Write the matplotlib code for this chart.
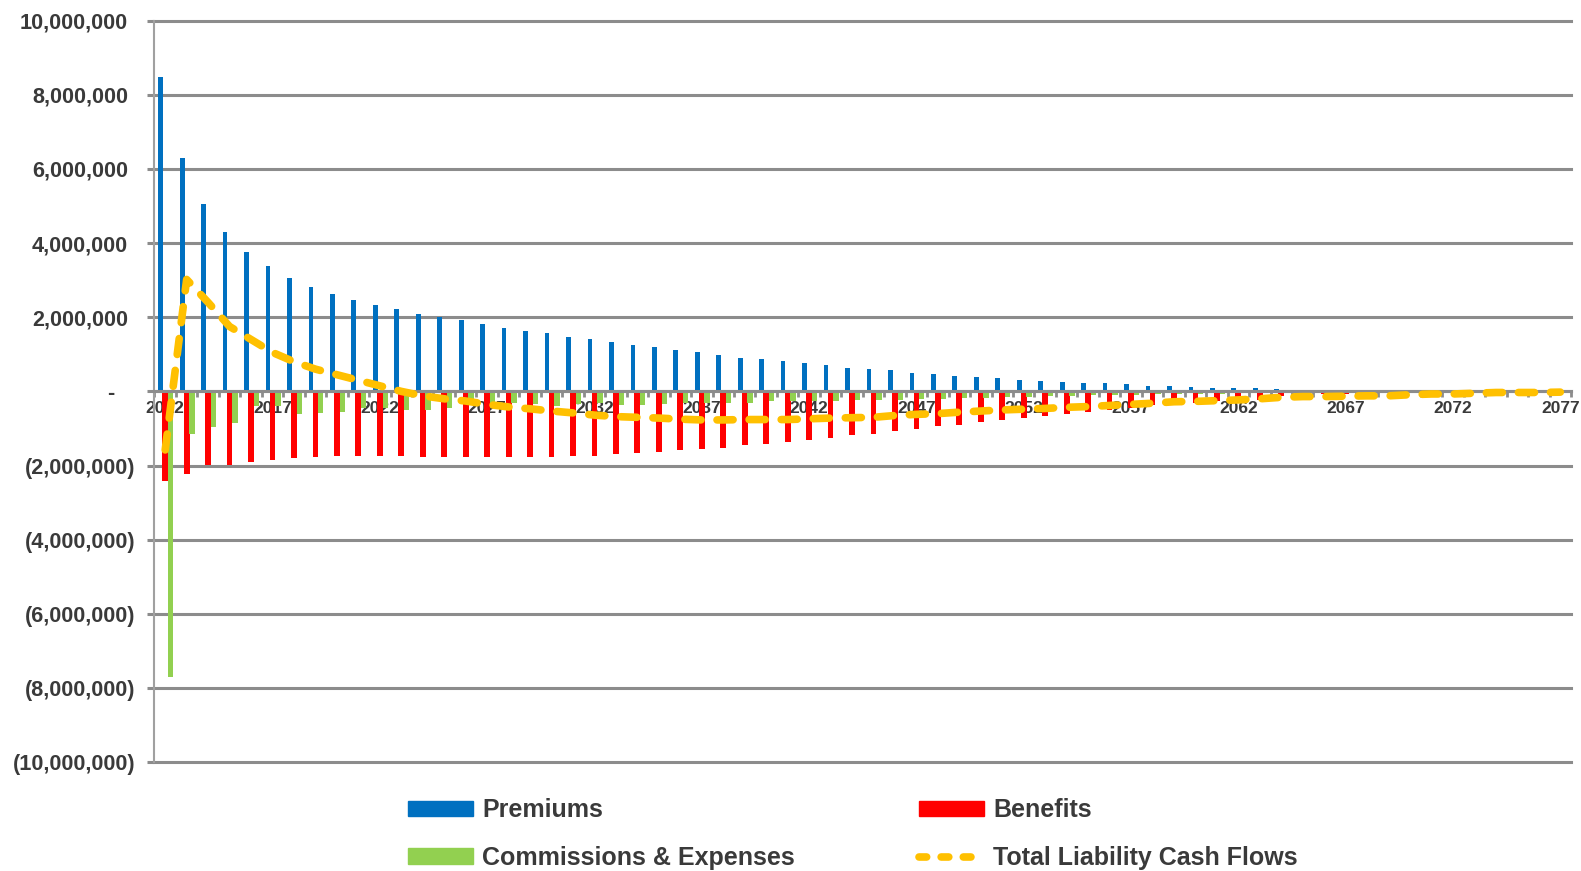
import matplotlib
matplotlib.use("Agg")
import matplotlib.pyplot as plt
import matplotlib.transforms as mtransforms
from matplotlib.patches import Patch
from matplotlib.lines import Line2D
import numpy as np

plt.rcParams['font.family'] = ['Liberation Sans', 'DejaVu Sans']
plt.rcParams['font.weight'] = 'bold'

years = list(range(2012, 2078))

# values in millions
premiums = [8.49, 6.31, 5.06, 4.31, 3.75, 3.37, 3.06, 2.82, 2.64, 2.47,
            2.33, 2.23, 2.09, 2.02, 1.92, 1.81, 1.70, 1.64, 1.58, 1.47,
            1.40, 1.33, 1.26, 1.19, 1.12, 1.05, 0.98, 0.91, 0.87, 0.81,
            0.77, 0.70, 0.63, 0.60, 0.57, 0.50, 0.46, 0.42, 0.39, 0.36,
            0.32, 0.29, 0.25, 0.23, 0.22, 0.19, 0.15, 0.15, 0.12, 0.10,
            0.08, 0.08, 0.07, 0.05, 0.05, 0.05, 0.04, 0.04, 0.04, 0.03,
            0.03, 0.03, 0.02, 0.02, 0.02, 0.02]

benefits = [-2.41, -2.22, -1.98, -1.98, -1.90, -1.85, -1.80, -1.77, -1.73, -1.74,
            -1.74, -1.75, -1.76, -1.76, -1.76, -1.77, -1.77, -1.77, -1.77, -1.73,
            -1.73, -1.69, -1.66, -1.63, -1.59, -1.56, -1.52, -1.46, -1.42, -1.36,
            -1.32, -1.25, -1.18, -1.14, -1.08, -1.01, -0.94, -0.90, -0.83, -0.77,
            -0.72, -0.67, -0.61, -0.55, -0.50, -0.44, -0.38, -0.34, -0.30, -0.25,
            -0.20, -0.22, -0.12, -0.09, -0.07, -0.06, -0.05, -0.04, -0.04, -0.03,
            -0.03, -0.02, -0.02, -0.02, -0.01, -0.01]

commissions = [-7.71, -1.14, -0.95, -0.84, -0.40, -0.40, -0.61, -0.59, -0.55, -0.45,
               -0.45, -0.50, -0.50, -0.45, -0.30, -0.30, -0.30, -0.34, -0.39, -0.34,
               -0.30, -0.36, -0.36, -0.35, -0.30, -0.32, -0.32, -0.31, -0.27, -0.27,
               -0.26, -0.25, -0.23, -0.23, -0.22, -0.21, -0.20, -0.18, -0.17, -0.15,
               -0.14, -0.13, -0.12, -0.11, -0.10, -0.09, -0.08, -0.08, -0.07, -0.06,
               -0.05, -0.05, -0.04, -0.04, -0.03, -0.03, -0.02, -0.02, -0.02, -0.02,
               -0.01, -0.01, -0.01, -0.01, -0.01, -0.01]

total = [-1.58, 3.02, 2.40, 1.75, 1.40, 1.05, 0.80, 0.60, 0.45, 0.30,
         0.15, 0.00, -0.12, -0.20, -0.26, -0.35, -0.42, -0.47, -0.53, -0.58,
         -0.64, -0.68, -0.70, -0.72, -0.75, -0.77, -0.77, -0.76, -0.76, -0.76,
         -0.74, -0.72, -0.71, -0.70, -0.65, -0.62, -0.60, -0.56, -0.53, -0.50,
         -0.48, -0.46, -0.43, -0.41, -0.38, -0.35, -0.32, -0.28, -0.27, -0.25,
         -0.23, -0.20, -0.16, -0.14, -0.14, -0.13, -0.12, -0.12, -0.09, -0.07,
         -0.07, -0.05, -0.03, -0.03, -0.03, -0.02]

yticks = list(range(-10, 11, 2))
label_years = years[::5]

blue = '#0070C0'
red = '#FF0000'
green = '#92D050'
gold = '#FFC000'
grey = '#8c8c8c'
txt = '#3a3a3a'

x = np.arange(len(years))
M = 1e6

fig = plt.figure(figsize=(15.81, 8.71), dpi=100)
ax = fig.add_axes([0.0977, 0.1251, 0.8960, 0.8511])

ax.bar(x - 0.21, np.array(premiums) * M, width=0.22, color=blue, zorder=2)
ax.bar(x, np.array(benefits) * M, width=0.27, color=red, zorder=2)
ax.bar(x + 0.25, np.array(commissions) * M, width=0.25, color=green, zorder=2)
ax.plot(x, np.array(total) * M, color=gold, lw=5.5, ls=(0, (2.1, 2.1)),
        dash_capstyle='round', zorder=4)

ax.set_xlim(-0.5, len(years) - 0.5)
ax.set_ylim(-10 * M, 10 * M)

# y axis
ax.set_yticks([v * M for v in yticks])
ylabels = []
for v in yticks:
    if v < 0:
        ylabels.append('({:,})'.format(int(-v * M)))
    elif v == 0:
        ylabels.append('-')
    else:
        ylabels.append('{:,}'.format(int(v * M)))
ax.set_yticklabels(ylabels)
ax.tick_params(axis='y', length=5, width=2.2, color=grey, direction='out',
               pad=9, labelsize=15.6, labelcolor=txt)
for v, lab in zip(yticks, ax.get_yticklabels()):
    if v > 0:
        shift = -5 / 72
    elif v == 0:
        shift = -15 / 72
    else:
        shift = 0
    lab.set_transform(lab.get_transform() +
                      mtransforms.ScaledTranslation(shift, 0, fig.dpi_scale_trans))

ax.yaxis.grid(True, color=grey, lw=2.2, zorder=0)
for gl in ax.get_ygridlines():
    gl.set_clip_on(False)
ax.set_axisbelow(True)

# x axis sits on zero
ax.spines['top'].set_visible(False)
ax.spines['right'].set_visible(False)
ax.spines['left'].set_color('#a0a0a0')
ax.spines['left'].set_linewidth(1.5)
ax.spines['bottom'].set_position(('data', 0))
ax.spines['bottom'].set_color(grey)
ax.spines['bottom'].set_linewidth(2.2)
ax.spines['bottom'].set_zorder(3)

ax.set_xticks(np.arange(-0.5, len(years), 1))
ax.set_xticklabels([])
ax.set_xticks([years.index(y) for y in label_years], minor=True)
ax.set_xticklabels([str(y) for y in label_years], minor=True)
ax.tick_params(axis='x', which='major', length=4, width=2, color=grey, direction='out')
ax.tick_params(axis='x', which='minor', length=0, pad=7, labelsize=12.5, labelcolor=txt)
for lab in ax.get_xticklabels(minor=True):
    lab.set_zorder(5)

handles = [Patch(color=blue), Patch(color=green), Patch(color=red),
           Line2D([0], [0], color=gold, lw=5.5, ls=(0, (1.0, 1.9)), dash_capstyle='round')]
names = ['Premiums', 'Commissions & Expenses', 'Benefits', 'Total Liability Cash Flows']
fig.legend(handles, names, ncol=2, loc='upper left', bbox_to_anchor=(0.258, 0.0835),
           frameon=False, fontsize=18, handlelength=2.6, handleheight=0.6,
           handletextpad=0.38, columnspacing=4.95, labelspacing=0.95,
           borderpad=0, borderaxespad=0, labelcolor=txt)

fig.savefig('out.png', dpi=100)
